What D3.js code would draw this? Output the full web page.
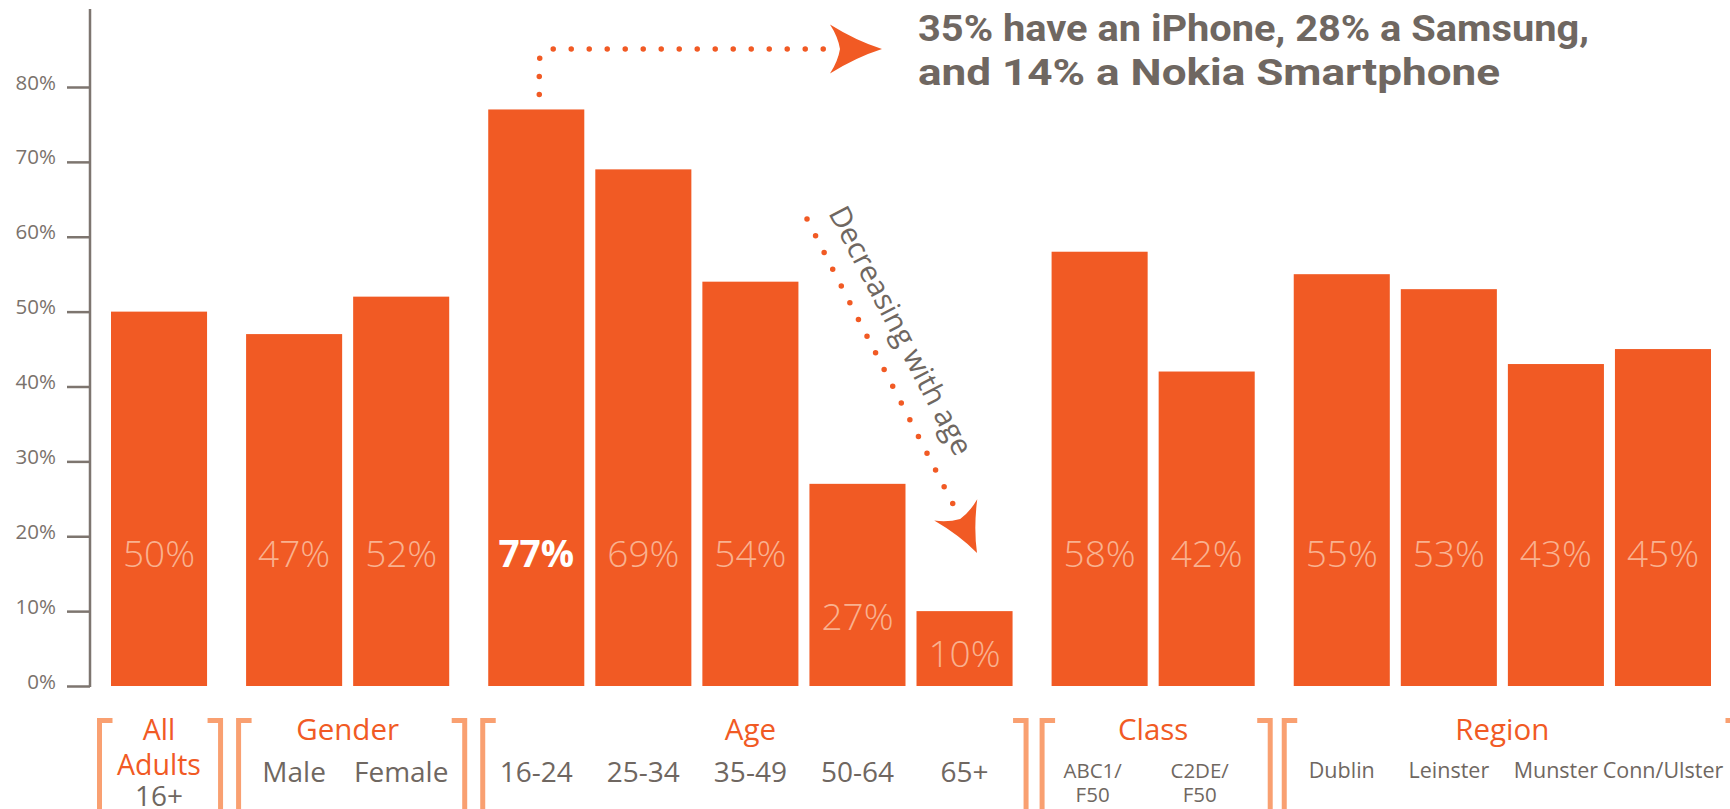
<!DOCTYPE html>
<html>
<head>
<meta charset="utf-8">
<script src="https://cdn.jsdelivr.net/npm/d3@7"></script>
<style>
  html, body { margin: 0; padding: 0; background: #ffffff; }
  svg { display: block; }
</style>
</head>
<body>
<svg id="chart" width="1730" height="809"></svg>
<script>
// ---- data ----
const groupTitles = [["All", "Adults"], ["Gender"], ["Age"], ["Class"], ["Region"]];
const categories = ["16+", "Male", "Female", "16-24", "25-34", "35-49", "50-64", "65+",
                    "ABC1/\nF50", "C2DE/\nF50", "Dublin", "Leinster", "Munster", "Conn/Ulster"];
const categoryGroup = [0, 1, 1, 2, 2, 2, 2, 2, 3, 3, 4, 4, 4, 4];
const values = [50, 47, 52, 77, 69, 54, 27, 10, 58, 42, 55, 53, 43, 45];
const highlight = "16-24";
const yTicks = [0, 10, 20, 30, 40, 50, 60, 70, 80];
const calloutLines = ["35% have an iPhone, 28% a Samsung,", "and 14% a Nokia Smartphone"];
const trendNote = "Decreasing with age";

// ---- styling ----
const ORANGE = "#f15a24";
const PEACH = "#f9b18f";
const BRACKET = "#f9a071";
const GREY = "#6f6761";
const AXIS = "#7d756f";
const FONT = "'Open Sans', 'Noto Sans', sans-serif";

const svg = d3.select("#chart");

// ---- scales ----
// bars sit on a unit grid; each new group adds a wider gap
const groupGap = 28 / 107;
const barUnits = 96 / 107;
const pos = categories.map((c, i) => i + categoryGroup[i] * groupGap);
const lastPos = pos[pos.length - 1] + barUnits;
const x = d3.scaleLinear().domain([0, lastPos]).range([111, 1711]);
const barW = x(barUnits) - x(0);
const y = d3.scaleLinear().domain([0, 80]).range([686, 87]);

// ---- y axis ----
const axisX = 90;
const yAxis = d3.axisLeft(y)
  .tickValues(yTicks)
  .tickFormat(d => d + "%")
  .tickSize(23)
  .tickSizeOuter(0)
  .tickPadding(11);

const gAxis = svg.append("g").attr("transform", `translate(${axisX},0)`).call(yAxis);
gAxis.select(".domain").remove();
gAxis.selectAll(".tick line").attr("stroke", AXIS).attr("stroke-width", 2.5);
gAxis.selectAll(".tick text")
  .attr("fill", "#7a726c")
  .attr("font-family", FONT)
  .attr("font-size", 20.5)
  .attr("dy", "0.1em");
svg.append("line")
  .attr("x1", axisX).attr("x2", axisX)
  .attr("y1", 9).attr("y2", y(0) + 1)
  .attr("stroke", AXIS).attr("stroke-width", 2.5);

// ---- bars ----
const bars = svg.append("g");
bars.selectAll("rect")
  .data(values)
  .join("rect")
  .attr("x", (d, i) => x(pos[i]))
  .attr("y", d => y(d))
  .attr("width", barW)
  .attr("height", d => y(0) - y(d))
  .attr("fill", ORANGE);

// value labels share one baseline; short bars carry theirs lower down
const labelBase = d => y(d) > 440
  ? Math.min(y(0) - 19, (y(d) + y(0)) / 2 + 45)
  : 567;
bars.selectAll("text")
  .data(values)
  .join("text")
  .attr("x", (d, i) => x(pos[i]) + barW / 2)
  .attr("y", labelBase)
  .attr("text-anchor", "middle")
  .attr("font-family", FONT)
  .attr("font-size", 37)
  .attr("font-weight", (d, i) => categories[i] === highlight ? 700 : 300)
  .attr("fill", (d, i) => categories[i] === highlight ? "#ffffff" : PEACH)
  .text(d => d + "%");

// ---- group brackets and labels ----
const padLeft = [14, 10, 8, 12, 12];
const padRight = [16, 18, 16, 18, 30];
const bracketTop = 718, bracketBottom = 809, serif = 13, stem = 5;
const gLabels = svg.append("g");

groupTitles.forEach((title, g) => {
  const idx = categoryGroup.map((k, i) => k === g ? i : -1).filter(i => i >= 0);
  const left = x(pos[idx[0]]) - padLeft[g];
  const right = x(pos[idx[idx.length - 1]]) + barW + padRight[g];

  // "[" on the left
  gLabels.append("path")
    .attr("d", `M${left + serif},${bracketTop} H${left} V${bracketBottom} H${left + serif}`)
    .attr("fill", "none").attr("stroke", BRACKET).attr("stroke-width", stem)
    .attr("transform", `translate(${stem / 2},${stem / 2})`);
  // "]" on the right
  gLabels.append("path")
    .attr("d", `M${right - serif},${bracketTop} H${right} V${bracketBottom} H${right - serif}`)
    .attr("fill", "none").attr("stroke", BRACKET).attr("stroke-width", stem)
    .attr("transform", `translate(${-stem / 2},${stem / 2})`);

  const cx = (x(pos[idx[0]]) + x(pos[idx[idx.length - 1]]) + barW) / 2;
  title.forEach((line, k) => {
    gLabels.append("text")
      .attr("x", cx).attr("y", 740 + k * 35)
      .attr("text-anchor", "middle")
      .attr("font-family", FONT).attr("font-size", g === 0 ? 28.5 : 29.5)
      .attr("fill", ORANGE)
      .text(line);
  });
});

// category labels under each bar
categories.forEach((c, i) => {
  const g = categoryGroup[i];
  const lines = c.split("\n");
  const small = g >= 3;
  const cx = x(pos[i]) + barW / 2 + (lines.length > 1 ? -7 : 0);
  const base = g === 0 ? 806 : (small ? 778 : 782);
  const t = gLabels.append("text")
    .attr("text-anchor", "middle")
    .attr("font-family", FONT)
    .attr("font-size", lines.length > 1 ? 20.5 : (small ? 21.5 : 28))
    .attr("fill", GREY);
  lines.forEach((line, k) => {
    t.append("tspan").attr("x", cx).attr("y", base + k * 24).text(line);
  });
});

// ---- annotations ----
function arrowHead(tipX, tipY, angleDeg, L, W, notch) {
  const a = angleDeg * Math.PI / 180;
  const ux = Math.cos(a), uy = Math.sin(a), px = -uy, py = ux;
  const bx = tipX - L * ux, by = tipY - L * uy;
  const c1 = [bx + W * px, by + W * py];
  const c2 = [bx - W * px, by - W * py];
  const n = [tipX - (L - notch) * ux, tipY - (L - notch) * uy];
  const bow = 4;
  const q1 = [(tipX + c1[0]) / 2 - bow * px, (tipY + c1[1]) / 2 - bow * py];
  const q2 = [(tipX + c2[0]) / 2 + bow * px, (tipY + c2[1]) / 2 + bow * py];
  const r1 = [(c1[0] + n[0]) / 2 + 3 * ux, (c1[1] + n[1]) / 2 + 3 * uy];
  const r2 = [(c2[0] + n[0]) / 2 + 3 * ux, (c2[1] + n[1]) / 2 + 3 * uy];
  return `M${tipX},${tipY} Q${q1} ${c1} Q${r1} ${n} Q${r2} ${c2} Q${q2} ${tipX},${tipY} Z`;
}

const gNotes = svg.append("g");
const dotStyle = sel => sel.attr("fill", "none").attr("stroke", ORANGE)
  .attr("stroke-width", 5.5).attr("stroke-linecap", "round");

// from the 16-24 bar up and across to the callout
const ax = x(pos[3]) + barW / 2 + 3;
gNotes.append("path")
  .attr("d", `M${ax},${y(77) - 15} V63 Q${ax},49 ${ax + 14},49 H826`)
  .call(dotStyle).attr("stroke-dasharray", "0 18");
gNotes.append("path").attr("d", arrowHead(882, 49, 0, 52, 24.5, 10)).attr("fill", ORANGE);

const calloutWidths = [671, 582];
calloutLines.forEach((line, k) => {
  gNotes.append("text")
    .attr("x", 918).attr("y", 41 + k * 44)
    .attr("font-family", "'Roboto', sans-serif")
    .attr("font-weight", 700)
    .attr("font-size", 37)
    .attr("textLength", calloutWidths[k])
    .attr("lengthAdjust", "spacingAndGlyphs")
    .attr("fill", GREY)
    .text(line);
});

// falling trend across the age bars
gNotes.append("path")
  .attr("d", "M807,219 L953,504")
  .call(dotStyle).attr("stroke-dasharray", "0 18.8");
gNotes.append("path").attr("d", arrowHead(977, 553, 63.7, 48, 24, 10)).attr("fill", ORANGE);

gNotes.append("text")
  .attr("transform", "translate(828,213) rotate(62.5)")
  .attr("font-family", FONT)
  .attr("font-size", 29.5)
  .attr("fill", GREY)
  .text(trendNote);
</script>
</body>
</html>
